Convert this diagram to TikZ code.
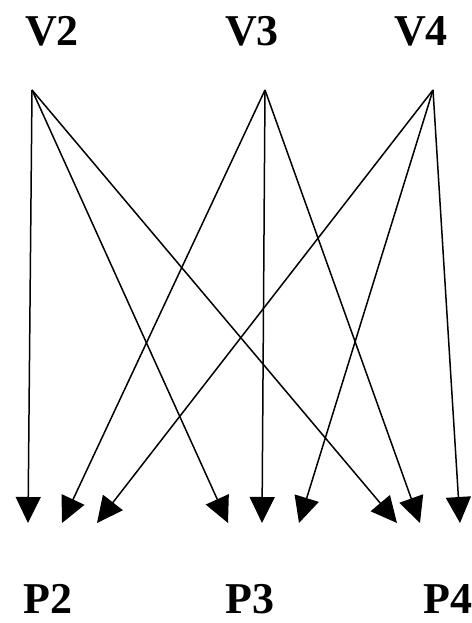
\documentclass[tikz,border=0pt]{standalone}
\usepackage{fontspec}
\setmainfont{Liberation Serif}
\usetikzlibrary{arrows.meta}

\tikzset{
    vlabel/.style={font=\fontsize{44}{44}\selectfont\bfseries, inner sep=0pt},
    link/.style={line width=1.5pt, -{Triangle[length=26pt, width=25pt]}}
}

\begin{document}
\begin{tikzpicture}[x=1pt, y=-1pt]
                \useasboundingbox (0,0) rectangle (471,623);
                \node[vlabel] (V2) at (52,31) {V2};
                \node[vlabel] (V3) at (252,31) {V3};
                \node[vlabel] (V4) at (421,31) {V4};
                \node[vlabel] (P2) at (48,599) {P2};
                \node[vlabel] (P3) at (250,599) {P3};
                \node[vlabel] (P4) at (448,599) {P4};

                \coordinate (s2) at (32,90);
                \coordinate (s3) at (265,90);
                \coordinate (s4) at (433,90);

                \coordinate (t22) at (28,523);
                \coordinate (t32) at (62,523);
                \coordinate (t42) at (97,523);
                \coordinate (t23) at (228,523);
                \coordinate (t33) at (262,523);
                \coordinate (t43) at (299,523);
                \coordinate (t24) at (397,523);
                \coordinate (t34) at (420,523);
                \coordinate (t44) at (460,523);

                \draw[link] (s2) -- (t22);
                \draw[link] (s2) -- (t23);
                \draw[link] (s2) -- (t24);
                \draw[link] (s3) -- (t32);
                \draw[link] (s3) -- (t33);
                \draw[link] (s3) -- (t34);
                \draw[link] (s4) -- (t42);
                \draw[link] (s4) -- (t43);
                \draw[link] (s4) -- (t44);
            \end{tikzpicture}
\end{document}
